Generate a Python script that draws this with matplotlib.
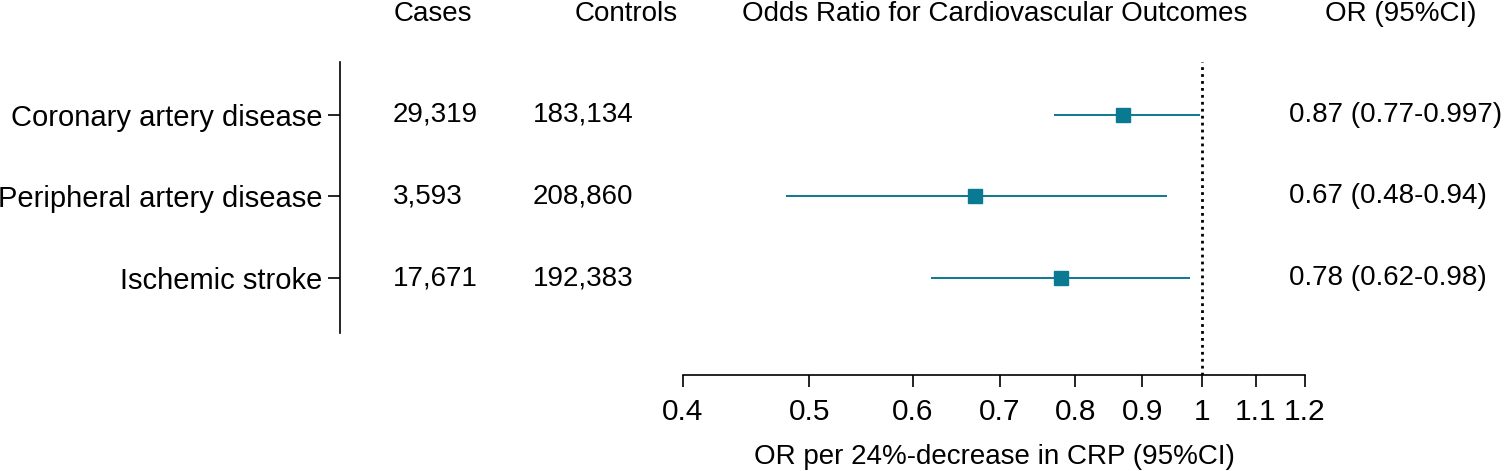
import numpy as np
import matplotlib
matplotlib.use('Agg')
import matplotlib.pyplot as plt
from matplotlib.transforms import blended_transform_factory
from matplotlib.ticker import FixedLocator, NullLocator

plt.rcParams['font.family'] = ['Liberation Sans', 'DejaVu Sans']

# data
outcomes = ['Coronary artery disease', 'Peripheral artery disease', 'Ischemic stroke']
cases = ['29,319', '3,593', '17,671']
controls = ['183,134', '208,860', '192,383']
odds_ratio = [0.87, 0.67, 0.78]
ci_low = [0.77, 0.48, 0.62]
ci_high = [0.997, 0.94, 0.98]
or_labels = ['0.87 (0.77-0.997)', '0.67 (0.48-0.94)', '0.78 (0.62-0.98)']
x_ticks = [0.4, 0.5, 0.6, 0.7, 0.8, 0.9, 1, 1.1, 1.2]
x_tick_labels = ['0.4', '0.5', '0.6', '0.7', '0.8', '0.9', '1', '1.1', '1.2']

W, H = 1506, 471
fig = plt.figure(figsize=(W / 100, H / 100), dpi=100)

color = '#0a7a93'
fs = 20
rows = np.arange(len(outcomes))

# left axis with outcome names
axl = fig.add_axes([340 / W, 1 - 333 / H, 1 / W, (333 - 62) / H])
axl.set_ylim(2.675, -0.65)
axl.set_xticks([])
for s in ['top', 'right', 'bottom']:
    axl.spines[s].set_visible(False)
axl.spines['left'].set_linewidth(1.2)
axl.set_yticks(rows)
axl.set_yticklabels(outcomes, fontsize=fs + 1)
axl.tick_params(axis='y', length=8.5, width=1.2, pad=4)

# forest plot
ax = fig.add_axes([683 / W, 1 - 375 / H, (1305 - 683) / W, (375 - 62) / H])
ax.set_xscale('log')
ax.set_xlim(0.4, 1.2)
ax.set_ylim(3.19, -0.65)
for s in ['top', 'right', 'left']:
    ax.spines[s].set_visible(False)
ax.spines['bottom'].set_linewidth(1.2)
ax.set_yticks([])
ax.xaxis.set_major_locator(FixedLocator(x_ticks))
ax.xaxis.set_minor_locator(NullLocator())
ax.set_xticklabels(x_tick_labels, fontsize=fs + 1.5)
ax.tick_params(axis='x', length=8.5, width=1.2, pad=8)
ax.set_xlabel('OR per 24%-decrease in CRP (95%CI)', fontsize=fs, labelpad=13)

ax.axvline(1, color='black', linestyle=(0, (1, 1.5)), linewidth=2, zorder=1)
ax.hlines(rows, ci_low, ci_high, color=color, linewidth=1.4, zorder=2)
ax.plot(odds_ratio, rows, 's', color=color, markersize=10.5, zorder=3)

# text columns
tr = blended_transform_factory(fig.transFigure, ax.transData)
for i in rows:
    fig.text(393 / W, i, cases[i], transform=tr, fontsize=fs, va='center', ha='left')
    fig.text(533 / W, i, controls[i], transform=tr, fontsize=fs, va='center', ha='left')
    fig.text(1289 / W, i, or_labels[i], transform=tr, fontsize=fs, va='center', ha='left')

hdr_y = 1 - 14 / H
fig.text(433 / W, hdr_y, 'Cases', fontsize=fs, ha='center', va='center')
fig.text(626 / W, hdr_y, 'Controls', fontsize=fs, ha='center', va='center')
fig.text(995 / W, hdr_y, 'Odds Ratio for Cardiovascular Outcomes', fontsize=fs,
         ha='center', va='center')
fig.text(1401 / W, hdr_y, 'OR (95%CI)', fontsize=fs, ha='center', va='center')

fig.savefig('out.png', dpi=100)
